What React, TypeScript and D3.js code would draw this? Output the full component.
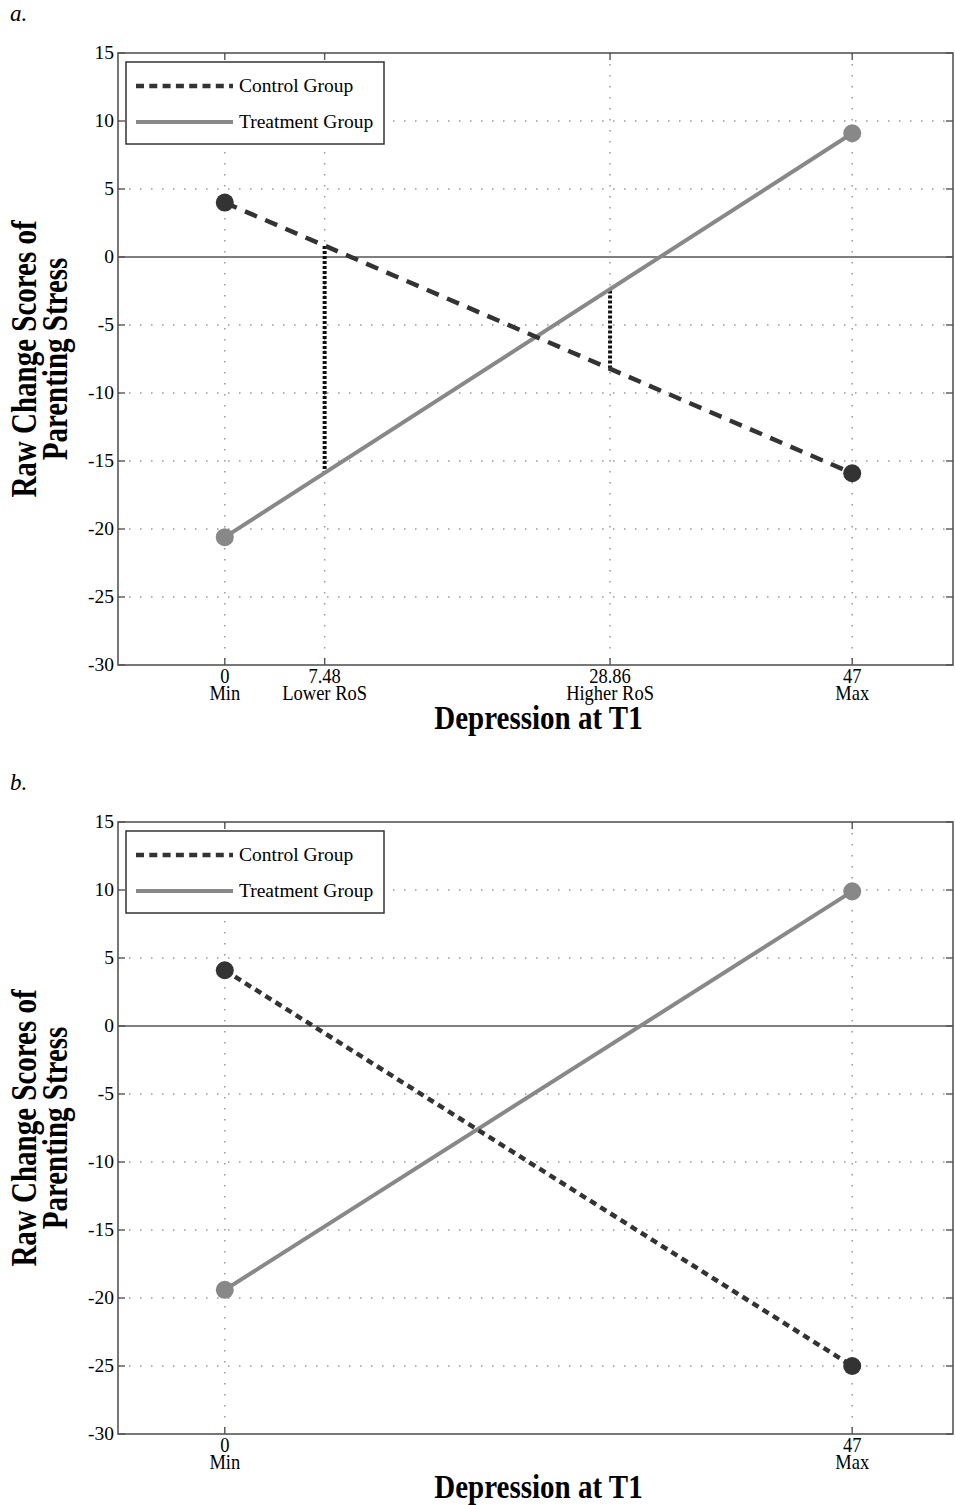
import React, { useEffect, useRef } from 'react';
import * as d3 from 'd3';

// depression at T1 (x) for the two end points of each simple slope
const depressionEnds = [0, 47];

// panel a
const controlA = [4.0, -15.9];
const treatmentA = [-20.6, 9.1];
const ticksA = [0, 7.48, 28.86, 47];
const tickNumA = ['0', '7.48', '28.86', '47'];
const tickNameA = ['Min', 'Lower RoS', 'Higher RoS', 'Max'];
// regions of significance: control value / treatment value at each bound
const rosX = [7.48, 28.86];
const rosControl = [0.8, -8.2];
const rosTreatment = [-15.9, -2.3];

// panel b
const controlB = [4.1, -25.0];
const treatmentB = [-19.4, 9.9];
const ticksB = [0, 47];
const tickNumB = ['0', '47'];
const tickNameB = ['Min', 'Max'];

const yTicks = [15, 10, 5, 0, -5, -10, -15, -20, -25, -30];
const legendLabels = ['Control Group', 'Treatment Group'];

const SERIF = '"Liberation Serif", "DejaVu Serif", serif';

export default function App() {
    const ref = useRef<SVGSVGElement>(null);

    useEffect(() => {
        const svg = d3.select(ref.current);
        svg.selectAll('*').remove();

        const drawPanel = (opts: any) => {
            const { top, letter, control, treatment, ticks, tickNum, tickName, controlDash, ros } = opts;
            const left = 118, right = 953, height = 612;

            const x = d3.scaleLinear().domain([-8, 54.55]).range([left, right]);
            const y = d3.scaleLinear().domain([-30, 15]).range([top + height, top]);

            const g = svg.append('g');

            // panel letter
            g.append('text')
                .attr('x', 10).attr('y', top - 32)
                .attr('font-family', SERIF).attr('font-style', 'italic')
                .attr('font-size', 23).text(letter + '.');

            // dotted grid
            g.selectAll('.hgrid').data(yTicks.filter(t => t !== 0 && t !== 15 && t !== -30)).enter()
                .append('line')
                .attr('x1', left).attr('x2', right)
                .attr('y1', d => y(d)).attr('y2', d => y(d))
                .attr('stroke', '#999').attr('stroke-width', 1.5)
                .attr('stroke-dasharray', '1.5 9.5');
            g.selectAll('.vgrid').data(ticks).enter()
                .append('line')
                .attr('x1', d => x(d)).attr('x2', d => x(d))
                .attr('y1', top).attr('y2', top + height)
                .attr('stroke', '#999').attr('stroke-width', 1.5)
                .attr('stroke-dasharray', '1.5 9.5');

            // zero line
            g.append('line')
                .attr('x1', left).attr('x2', right)
                .attr('y1', y(0)).attr('y2', y(0))
                .attr('stroke', '#555').attr('stroke-width', 1.6);

            // axes box
            g.append('rect')
                .attr('x', left).attr('y', top)
                .attr('width', right - left).attr('height', height)
                .attr('fill', 'none').attr('stroke', '#555').attr('stroke-width', 1.6);

            // inner ticks
            const tl = 7;
            yTicks.forEach(t => {
                g.append('line').attr('x1', left).attr('x2', left + tl)
                    .attr('y1', y(t)).attr('y2', y(t)).attr('stroke', '#555').attr('stroke-width', 1.4);
                g.append('line').attr('x1', right).attr('x2', right - tl)
                    .attr('y1', y(t)).attr('y2', y(t)).attr('stroke', '#555').attr('stroke-width', 1.4);
            });
            ticks.forEach((t: number) => {
                g.append('line').attr('x1', x(t)).attr('x2', x(t))
                    .attr('y1', top).attr('y2', top + tl).attr('stroke', '#555').attr('stroke-width', 1.4);
                g.append('line').attr('x1', x(t)).attr('x2', x(t))
                    .attr('y1', top + height).attr('y2', top + height - tl).attr('stroke', '#555').attr('stroke-width', 1.4);
            });

            // y tick labels
            g.selectAll('.ylab').data(yTicks).enter()
                .append('text')
                .attr('x', left - 4).attr('y', d => y(d) + 6)
                .attr('text-anchor', 'end')
                .attr('font-family', SERIF).attr('font-size', 19.5)
                .text(d => d);

            // x tick labels, two lines
            ticks.forEach((t: number, i: number) => {
                const y1 = top + height + 18, y2 = top + height + 35;
                g.append('text')
                    .attr('x', x(t)).attr('y', y1)
                    .attr('text-anchor', 'middle')
                    .attr('font-family', SERIF).attr('font-size', 18.5)
                    .attr('transform', `translate(0,${y1 * -0.1}) scale(1,1.1)`)
                    .text(tickNum[i]);
                g.append('text')
                    .attr('x', x(t)).attr('y', y2)
                    .attr('text-anchor', 'middle')
                    .attr('font-family', SERIF).attr('font-size', 18.5)
                    .attr('transform', `translate(0,${y2 * -0.1}) scale(1,1.1)`)
                    .text(tickName[i]);
            });

            // axis titles
            const xt = top + height + 64;
            g.append('text')
                .attr('x', x(23.5)).attr('y', xt)
                .attr('text-anchor', 'middle')
                .attr('font-family', SERIF).attr('font-weight', 'bold').attr('font-size', 29)
                .attr('transform', `translate(0,${xt * -0.15}) scale(1,1.15)`)
                .text('Depression at T1');

            const yc = top + height / 2;
            ['Raw Change Scores of', 'Parenting Stress'].forEach((s, i) => {
                g.append('text')
                    .attr('transform', `translate(${36 + i * 31},${yc}) scale(1.2,1) rotate(-90)`)
                    .attr('text-anchor', 'middle')
                    .attr('font-family', SERIF).attr('font-weight', 'bold').attr('font-size', 29)
                    .text(s);
            });

            // RoS lines
            if (ros) {
                rosX.forEach((r, i) => {
                    g.append('line')
                        .attr('x1', x(r)).attr('x2', x(r))
                        .attr('y1', y(rosControl[i])).attr('y2', y(rosTreatment[i]))
                        .attr('stroke', '#111').attr('stroke-width', 4)
                        .attr('stroke-dasharray', '3 2');
                });
            }

            const line = d3.line<number>()
                .x((d, i) => x(depressionEnds[i]))
                .y(d => y(d));

            // treatment line
            g.append('path').datum(treatment)
                .attr('d', line)
                .attr('fill', 'none').attr('stroke', '#888').attr('stroke-width', 4);
            // control line
            g.append('path').datum(control)
                .attr('d', line)
                .attr('fill', 'none').attr('stroke', '#333').attr('stroke-width', 4.5)
                .attr('stroke-dasharray', controlDash);

            g.selectAll('.tpt').data(treatment).enter()
                .append('circle')
                .attr('cx', (d, i) => x(depressionEnds[i])).attr('cy', d => y(d))
                .attr('r', 9).attr('fill', '#888');
            g.selectAll('.cpt').data(control).enter()
                .append('circle')
                .attr('cx', (d, i) => x(depressionEnds[i])).attr('cy', d => y(d))
                .attr('r', 9).attr('fill', '#333');

            // legend
            const lg = g.append('g').attr('transform', `translate(126,${top + 9})`);
            lg.append('rect')
                .attr('width', 258).attr('height', 82)
                .attr('fill', 'white').attr('stroke', '#333').attr('stroke-width', 1.5);
            lg.append('line')
                .attr('x1', 10).attr('x2', 107).attr('y1', 24).attr('y2', 24)
                .attr('stroke', '#333').attr('stroke-width', 4.5).attr('stroke-dasharray', '8 5.3');
            lg.append('line')
                .attr('x1', 10).attr('x2', 107).attr('y1', 60).attr('y2', 60)
                .attr('stroke', '#888').attr('stroke-width', 4);
            legendLabels.forEach((s, i) => {
                lg.append('text')
                    .attr('x', 113).attr('y', 30 + i * 36)
                    .attr('font-family', SERIF).attr('font-size', 19.5)
                    .text(s);
            });
        };

        drawPanel({
            top: 53, letter: 'a', control: controlA, treatment: treatmentA,
            ticks: ticksA, tickNum: tickNumA, tickName: tickNameA,
            controlDash: '13 9', ros: true
        });
        drawPanel({
            top: 822, letter: 'b', control: controlB, treatment: treatmentB,
            ticks: ticksB, tickNum: tickNumB, tickName: tickNameB,
            controlDash: '7 5', ros: false
        });
    }, []);

    return (
        <svg ref={ref} width={955} height={1505}
            style={{ position: 'absolute', left: 0, top: 0, background: 'white' }} />
    );
}
